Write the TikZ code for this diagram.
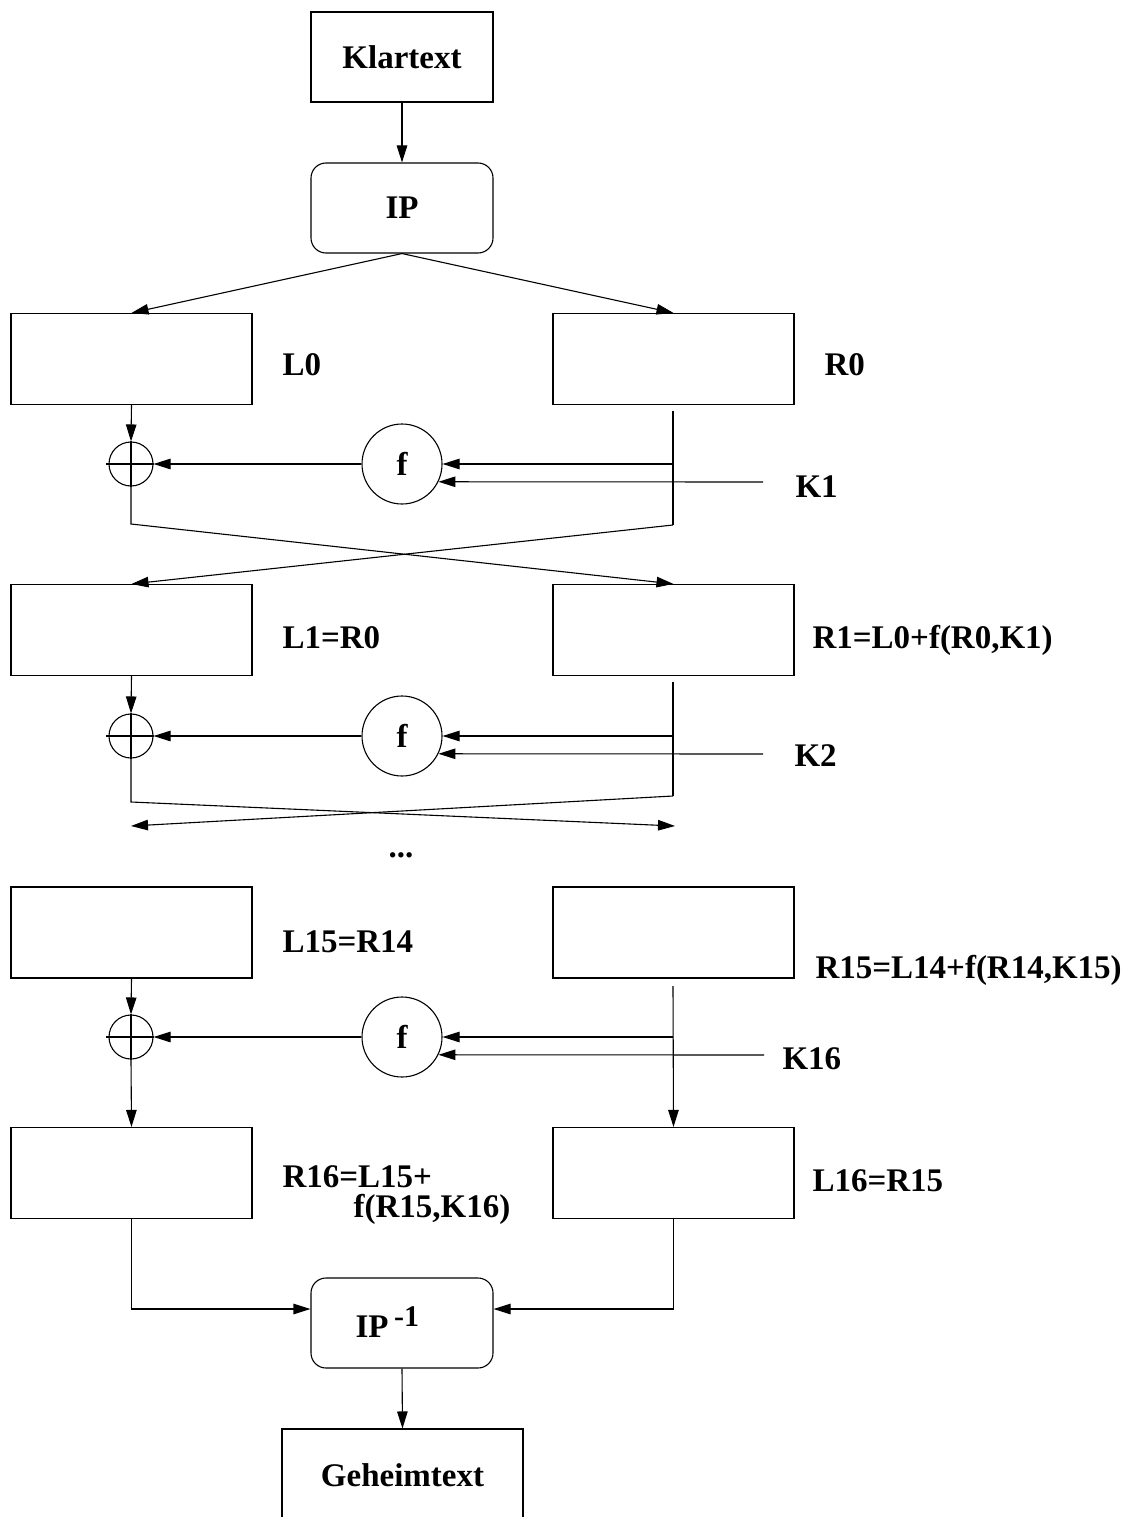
\documentclass[tikz,border=0pt]{standalone}
\usepackage{fontspec}
\setmainfont{Liberation Serif}
\usetikzlibrary{arrows.meta}

\begin{document}
\begin{tikzpicture}[
  x=1pt, y=-1pt,
  line width=1.1pt,
  font=\fontsize{33}{38}\selectfont\bfseries,
  arr/.style={-{Triangle[length=17pt,width=10.5pt]}},
  blk/.style={draw, minimum width=241pt, minimum height=91pt, inner sep=0pt},
  perm/.style={draw, rounded corners=15pt, minimum width=182pt, minimum height=90pt, inner sep=0pt},
  xorc/.style={draw, circle, minimum size=44pt, inner sep=0pt},
  fc/.style={draw, circle, minimum size=80pt, inner sep=0pt},
  lbl/.style={anchor=base west, inner sep=0pt}
]
\useasboundingbox (0,0) rectangle (1125,1517);

% --- input and initial permutation
\node[draw, minimum width=182pt, minimum height=90pt, inner sep=0pt] (klar) at (402,57) {Klartext};
\node[perm] (ip) at (402,208) {IP};
\draw[arr] (klar.south) -- (ip.north);

% --- round 0 halves
\node[blk] (L0) at (131.5,359) {};
\node[blk] (R0) at (673.5,359) {};
\node[lbl] (tL0) at (282,375) {L0};
\node[lbl] (tR0) at (824,375) {R0};
\draw[arr] (ip.south) -- (L0.north);
\draw[arr] (ip.south) -- (R0.north);

% --- round 1
\node[xorc] (x1) at (131,464) {};
\node[fc] (f1) at (402,464) {f};
\draw ([xshift=-2pt]x1.west) -- (x1.east);
\draw (x1.north) -- (x1.south);
\draw[arr] (L0.south) -- (x1.north);
\draw[arr] (f1.west) -- (x1.east);
\coordinate (r1top) at (673,411);
\coordinate (r1tap) at (673,464);
\coordinate (r1bot) at (673,525);
\coordinate (l1bot) at (131,524);
\coordinate (k1) at (763,482);
\draw (r1top) -- (r1bot);
\draw[arr] (r1tap) -- (f1.east);
\draw[arr] (k1) -- (f1.-26.8);
\node[lbl] (tK1) at (795,497) {K1};

\node[blk] (L1) at (131.5,630) {};
\node[blk] (R1) at (673.5,630) {};
\node[lbl] (tL1) at (282,648) {L1=R0};
\node[lbl] (tR1) at (812,648) {R1=L0+f(R0,K1)};
\draw[arr] (x1.south) -- (l1bot) -- (R1.north);
\draw[arr] (r1bot) -- (L1.north);

% --- round 2
\node[xorc] (x2) at (131,736) {};
\node[fc] (f2) at (402,736) {f};
\draw ([xshift=-2pt]x2.west) -- (x2.east);
\draw (x2.north) -- (x2.south);
\draw[arr] (L1.south) -- (x2.north);
\draw[arr] (f2.west) -- (x2.east);
\coordinate (r2top) at (673,682);
\coordinate (r2tap) at (673,736);
\coordinate (r2bot) at (673,796);
\coordinate (l2bot) at (131,802);
\coordinate (k2) at (763,754);
\coordinate (o2l) at (131,826);
\coordinate (o2r) at (675,826);
\draw (r2top) -- (r2bot);
\draw[arr] (r2tap) -- (f2.east);
\draw[arr] (k2) -- (f2.-26.8);
\node[lbl] (tK2) at (794,766) {K2};
\draw[arr] (x2.south) -- (l2bot) -- (o2r);
\draw[arr] (r2bot) -- (o2l);

\node (dots) at (401,857) [anchor=base, inner sep=0pt] {...};

% --- round 15 halves
\node[blk] (L15) at (131.5,932.5) {};
\node[blk] (R15) at (673.5,932.5) {};
\node[lbl] (tL15) at (282,952) {L15=R14};
\node[lbl] (tR15) at (815,978) {R15=L14+f(R14,K15)};

% --- round 16 (no swap)
\node[xorc] (x3) at (131,1037) {};
\node[fc] (f3) at (402,1037) {f};
\draw ([xshift=-2pt]x3.west) -- (x3.east);
\draw (x3.north) -- (x3.south);
\draw[arr] (L15.south) -- (x3.north);
\draw[arr] (f3.west) -- (x3.east);
\coordinate (r3top) at (673,986);
\coordinate (r3tap) at (673,1037);
\coordinate (k16) at (764,1055);
\draw[arr] (r3tap) -- (f3.east);
\draw[arr] (k16) -- (f3.-26.8);
\node[lbl] (tK16) at (782,1069) {K16};

\node[blk] (R16) at (131.5,1173) {};
\node[blk] (L16) at (673.5,1173) {};
\draw[arr] (x3.south) -- (R16.north);
\draw[arr] (r3top) -- (L16.north);
\node[lbl] (tR16a) at (282,1187) {R16=L15+};
\node[lbl] (tR16b) at (353,1217) {f(R15,K16)};
\node[lbl] (tL16) at (812,1191) {L16=R15};

% --- inverse permutation and output
\node[perm] (ipinv) at (402,1323) {};
\node[lbl] (tipinv) at (355,1337) {IP\,\raisebox{11pt}{\fontsize{30}{30}\selectfont -1}};
\draw[arr] (R16.south) |- ([yshift=14pt]ipinv.west);
\draw[arr] (L16.south) |- ([yshift=14pt]ipinv.east);

\node[draw, minimum width=241pt, minimum height=92pt, inner sep=0pt] (geheim) at (402.5,1475) {Geheimtext};
\draw[arr] (ipinv.south) -- (geheim.north);
\end{tikzpicture}
\end{document}
